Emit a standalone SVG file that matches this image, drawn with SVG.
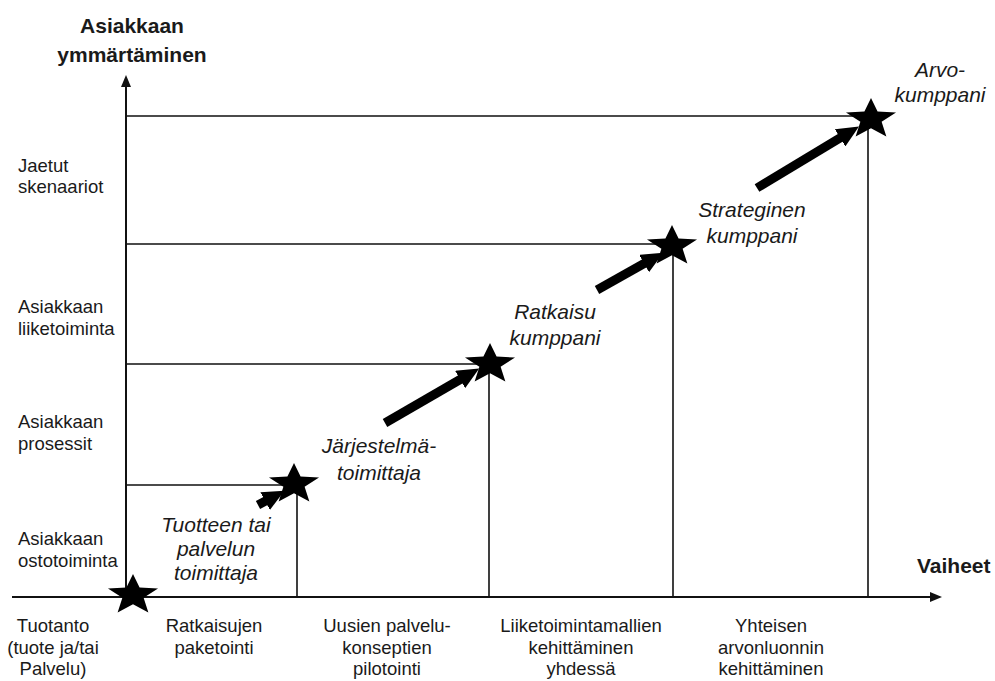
<svg xmlns="http://www.w3.org/2000/svg" width="995" height="681" viewBox="0 0 995 681">
  <style>
    .axis { stroke: #111; stroke-width: 2; fill: none; }
    .grid { stroke: #111; stroke-width: 1.6; fill: none; }
    .step { stroke: #000; stroke-width: 9; fill: none; }
    .star { fill: #000; }
    text { font-family: "Liberation Sans", Arial, sans-serif; fill: #1a1a1a; }
    .title { font-size: 21px; font-weight: bold; }
    .lbl { font-size: 18.5px; }
    .phase { font-size: 18.5px; text-anchor: middle; }
    .role { font-size: 21px; font-style: italic; text-anchor: middle; }
  </style>
  <defs>
    <marker id="axisHead" markerWidth="12" markerHeight="10" refX="1" refY="5" orient="auto" markerUnits="userSpaceOnUse">
      <path d="M0,0 L12,5 L0,10 z" fill="#111"/>
    </marker>
    <marker id="stepHead" markerWidth="22" markerHeight="20" refX="1" refY="10" orient="auto" markerUnits="userSpaceOnUse">
      <path d="M0,0 L22,10 L0,20 z" fill="#000"/>
    </marker>
    <!-- five-point star, slightly wide -->
    <polygon id="starShape" transform="scale(1.22,1)" points="0,-21 5.4,-7.4 20.5,-6.5 8.7,2.8 12.6,17.5 0,9.2 -12.6,17.5 -8.7,2.8 -20.5,-6.5 -5.4,-7.4"/>
  </defs>

  <!-- level guide lines -->
  <g id="guides">
    <polyline class="grid" points="126,116 868,116 868,597"/>
    <polyline class="grid" points="126,244 673,244 673,597"/>
    <polyline class="grid" points="126,364 489,364 489,597"/>
    <polyline class="grid" points="126,485 297,485 297,597"/>
  </g>

  <!-- axes -->
  <g id="axes">
    <line class="axis" x1="126" y1="597" x2="126" y2="86" marker-end="url(#axisHead)"/>
    <line class="axis" x1="12" y1="597" x2="931" y2="597" marker-end="url(#axisHead)"/>
  </g>

  <!-- progression arrows between stages -->
  <g id="connectors">
    <line class="step" x1="258" y1="505" x2="266" y2="500.7" marker-end="url(#stepHead)"/>
    <line class="step" x1="385" y1="423" x2="461" y2="379" marker-end="url(#stepHead)"/>
    <line class="step" x1="597" y1="290" x2="645" y2="263" marker-end="url(#stepHead)"/>
    <line class="step" x1="757" y1="188" x2="841" y2="137.4" marker-end="url(#stepHead)"/>
  </g>

  <!-- stage stars -->
  <g id="stage-tuotanto" class="star"><use href="#starShape" x="133" y="595"/></g>
  <g id="stage-tuotteen-toimittaja" class="star"><use href="#starShape" x="294" y="484"/></g>
  <g id="stage-jarjestelmatoimittaja" class="star"><use href="#starShape" x="490" y="364"/></g>
  <g id="stage-ratkaisukumppani" class="star"><use href="#starShape" x="672" y="246"/></g>
  <g id="stage-arvokumppani" class="star"><use href="#starShape" x="871" y="119"/></g>

  <!-- axis titles -->
  <g id="y-title">
    <text class="title" x="132" y="33" text-anchor="middle">Asiakkaan</text>
    <text class="title" x="132" y="62" text-anchor="middle">ymmärtäminen</text>
  </g>
  <g id="x-title">
    <text class="title" x="917" y="573">Vaiheet</text>
  </g>

  <!-- levels of customer understanding -->
  <g id="level-1">
    <text class="lbl" x="18" y="545">Asiakkaan</text>
    <text class="lbl" x="18" y="567">ostotoiminta</text>
  </g>
  <g id="level-2">
    <text class="lbl" x="18" y="428">Asiakkaan</text>
    <text class="lbl" x="18" y="450">prosessit</text>
  </g>
  <g id="level-3">
    <text class="lbl" x="18" y="313">Asiakkaan</text>
    <text class="lbl" x="18" y="335">liiketoiminta</text>
  </g>
  <g id="level-4">
    <text class="lbl" x="18" y="172">Jaetut</text>
    <text class="lbl" x="18" y="193">skenaariot</text>
  </g>

  <!-- phases along the horizontal axis -->
  <g id="phase-1">
    <text class="phase" x="53" y="632">Tuotanto</text>
    <text class="phase" x="53" y="654">(tuote ja/tai</text>
    <text class="phase" x="53" y="675">Palvelu)</text>
  </g>
  <g id="phase-2">
    <text class="phase" x="214" y="632">Ratkaisujen</text>
    <text class="phase" x="214" y="654">paketointi</text>
  </g>
  <g id="phase-3">
    <text class="phase" x="387" y="632">Uusien palvelu-</text>
    <text class="phase" x="387" y="654">konseptien</text>
    <text class="phase" x="387" y="675">pilotointi</text>
  </g>
  <g id="phase-4">
    <text class="phase" x="581" y="632">Liiketoimintamallien</text>
    <text class="phase" x="581" y="654">kehittäminen</text>
    <text class="phase" x="581" y="675">yhdessä</text>
  </g>
  <g id="phase-5">
    <text class="phase" x="771" y="632">Yhteisen</text>
    <text class="phase" x="771" y="654">arvonluonnin</text>
    <text class="phase" x="771" y="675">kehittäminen</text>
  </g>

  <!-- supplier roles -->
  <g id="role-1">
    <text class="role" x="216" y="532">Tuotteen tai</text>
    <text class="role" x="216" y="556">palvelun</text>
    <text class="role" x="216" y="580">toimittaja</text>
  </g>
  <g id="role-2">
    <text class="role" x="379" y="453">Järjestelmä-</text>
    <text class="role" x="379" y="480">toimittaja</text>
  </g>
  <g id="role-3">
    <text class="role" x="555" y="319">Ratkaisu</text>
    <text class="role" x="555" y="345">kumppani</text>
  </g>
  <g id="role-4">
    <text class="role" x="752" y="217">Strateginen</text>
    <text class="role" x="752" y="243">kumppani</text>
  </g>
  <g id="role-5">
    <text class="role" x="940" y="77">Arvo-</text>
    <text class="role" x="940" y="102">kumppani</text>
  </g>
</svg>
